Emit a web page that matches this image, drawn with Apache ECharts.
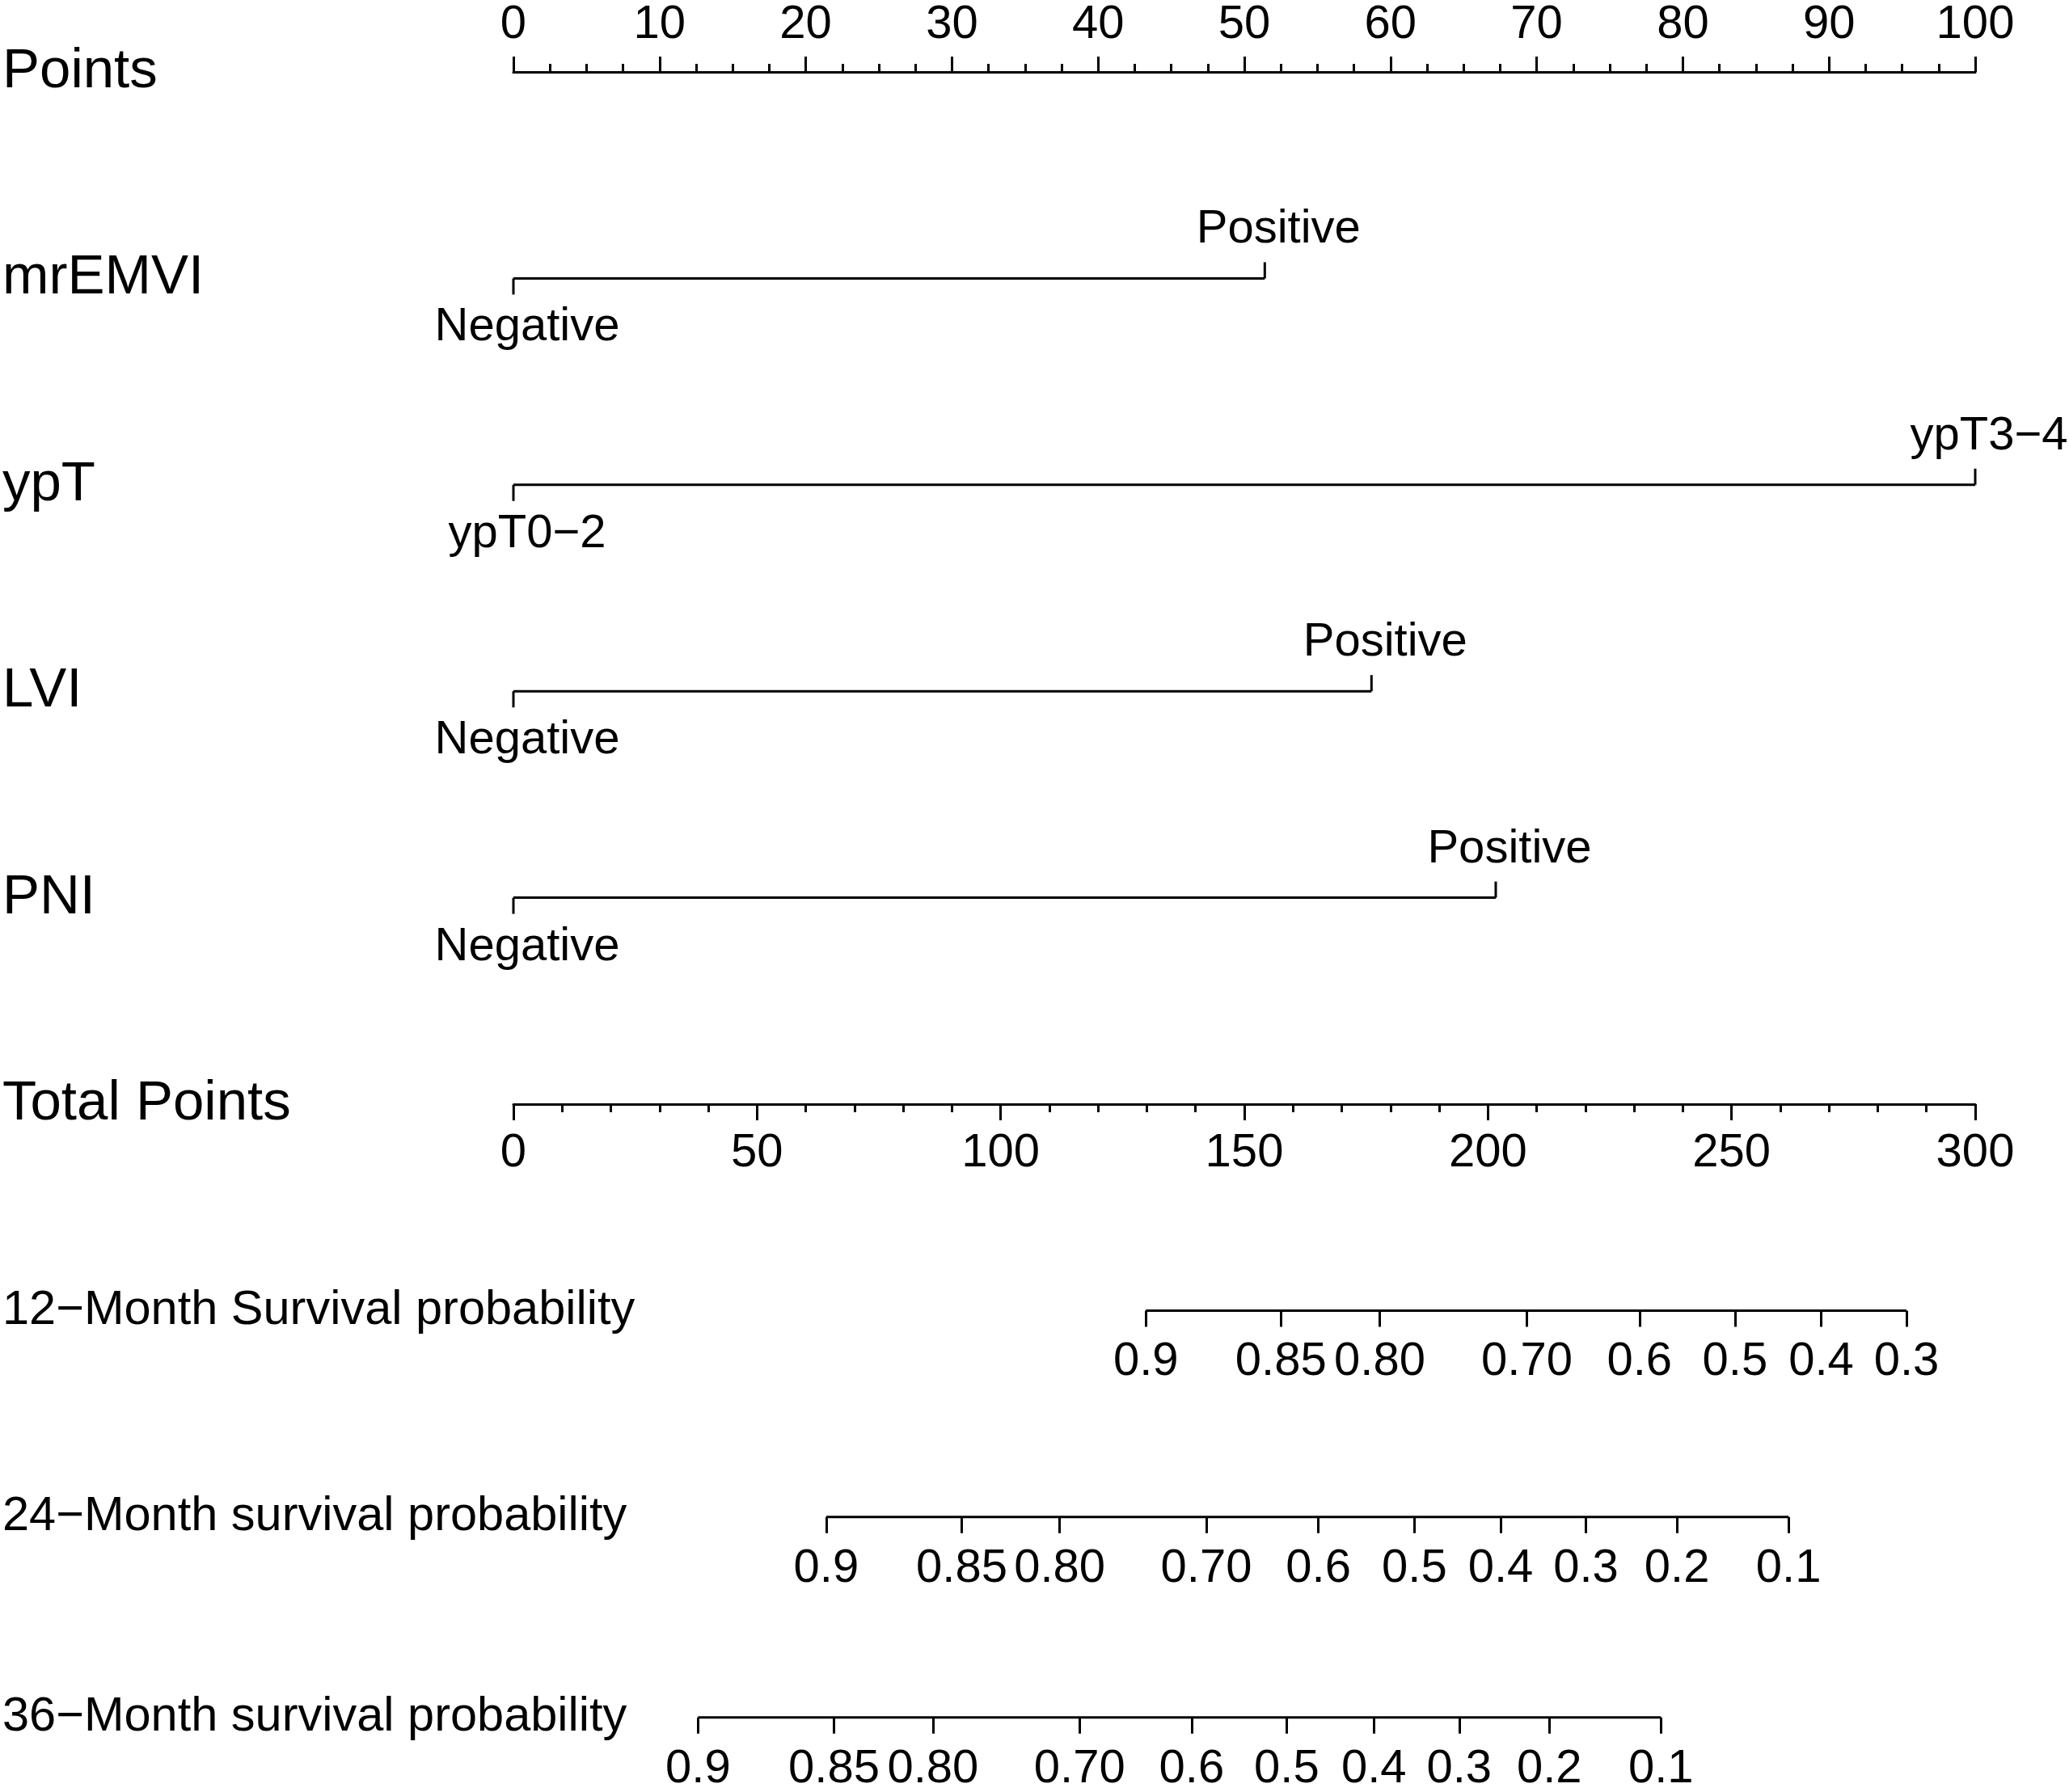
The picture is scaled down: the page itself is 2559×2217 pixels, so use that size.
<!DOCTYPE html>
<html>
<head>
<meta charset="utf-8">
<script src="https://cdn.jsdelivr.net/npm/echarts@6/dist/echarts.min.js"></script>
<style>
  html, body { margin: 0; padding: 0; background: #fff; }
  #chart { width: 2559px; height: 2217px; }
</style>
</head>
<body>
<div id="chart"></div>
<script>
// rows of the nomogram, top to bottom
const rowNames = ['Points', 'mrEMVI', 'ypT', 'LVI', 'PNI', 'Total Points'];

// levels of each predictor and the points they get
const mrEMVILevels = ['Negative', 'Positive'];
const mrEMVIPoints = [0, 51.4];
const ypTLevels = ['ypT0\u22122', 'ypT3\u22124'];
const ypTPoints = [0, 100];
const LVILevels = ['Negative', 'Positive'];
const LVIPoints = [0, 58.7];
const PNILevels = ['Negative', 'Positive'];
const PNIPoints = [0, 67.2];

// survival scales: label and the total points it sits at
const surv12Title = '12\u2212Month Survival probability';
const surv12Labels = ['0.9', '0.85', '0.80', '0.70', '0.6', '0.5', '0.4', '0.3'];
const surv12Points = [129.8, 157.5, 177.8, 208.0, 231.1, 250.7, 268.4, 285.9];

const surv24Title = '24\u2212Month survival probability';
const surv24Labels = ['0.9', '0.85', '0.80', '0.70', '0.6', '0.5', '0.4', '0.3', '0.2', '0.1'];
const surv24Points = [64.2, 92.0, 112.1, 142.2, 165.2, 184.9, 202.6, 220.1, 238.8, 261.7];

const surv36Title = '36\u2212Month survival probability';
const surv36Labels = ['0.9', '0.85', '0.80', '0.70', '0.6', '0.5', '0.4', '0.3', '0.2', '0.1'];
const surv36Points = [37.9, 65.8, 86.1, 116.2, 139.2, 158.7, 176.6, 194.1, 212.6, 235.5];

// axis ranges
const pointsMax = 100, pointsStep = 10;
const totalMax = 300, totalStep = 50;

const FONT = 'Liberation Sans, Arial, Helvetica, sans-serif';
const chart = echarts.init(document.getElementById('chart'));

const predictors = [
  { levels: mrEMVILevels, pts: mrEMVIPoints, row: 4 },
  { levels: ypTLevels, pts: ypTPoints, row: 3 },
  { levels: LVILevels, pts: LVIPoints, row: 2 },
  { levels: PNILevels, pts: PNIPoints, row: 1 }
];
const survs = [
  { title: surv12Title, labels: surv12Labels, pts: surv12Points },
  { title: surv24Title, labels: surv24Labels, pts: surv24Points },
  { title: surv36Title, labels: surv36Labels, pts: surv36Points }
];

// level ticks + labels; first level below the line, next above, alternating
const levelItems = [];
predictors.forEach(p => {
  p.levels.forEach((lab, i) => {
    levelItems.push({ value: [p.pts[i], p.row, i % 2 === 0 ? -1 : 1], label: lab });
  });
});

const L = 635, W = 1808;
const topY = 89, rowH = 255.4;
const black = { color: '#000', width: 3 };

const grids = [{ left: L, width: W, top: topY, height: rowH * 5 }];
const xAxes = [
  {
    gridIndex: 0, type: 'value', position: 'top', min: 0, max: pointsMax, interval: pointsStep,
    axisLine: { show: true, onZero: false, lineStyle: black },
    axisTick: { show: true, length: 19, lineStyle: black },
    minorTick: { show: true, splitNumber: 4, length: 10, lineStyle: black },
    axisLabel: { color: '#000', fontSize: 58, fontFamily: FONT, margin: 29 },
    splitLine: { show: false }
  },
  {
    gridIndex: 0, type: 'value', position: 'bottom', min: 0, max: totalMax, interval: totalStep,
    axisLine: { show: true, onZero: false, lineStyle: black },
    axisTick: { show: true, length: 20, lineStyle: black },
    minorTick: { show: true, splitNumber: 5, length: 10, lineStyle: black },
    axisLabel: { color: '#000', fontSize: 58, fontFamily: FONT, margin: 32 },
    splitLine: { show: false }
  }
];
const yAxes = [
  {
    gridIndex: 0, type: 'value', min: 0, max: 5,
    axisLine: { show: false }, axisTick: { show: false }, splitLine: { show: false },
    axisLabel: {
      customValues: [5, 4, 3, 2, 1, 0],
      formatter: v => rowNames[5 - v],
      align: 'left', margin: L - 3,
      color: '#000', fontSize: 69, fontFamily: FONT
    }
  }
];

const series = [];
predictors.forEach(p => {
  series.push({
    type: 'line', xAxisIndex: 0, yAxisIndex: 0, symbol: 'none', silent: true,
    lineStyle: black,
    data: [[p.pts[0], p.row], [p.pts[p.pts.length - 1], p.row]]
  });
});
series.push({
  type: 'custom', xAxisIndex: 0, yAxisIndex: 0, silent: true,
  data: levelItems.map(d => d.value),
  renderItem: (params, api) => {
    const pt = api.coord([api.value(0), api.value(1)]);
    const side = api.value(2);
    const item = levelItems[params.dataIndex];
    return {
      type: 'group',
      children: [
        { type: 'line', shape: { x1: pt[0], y1: pt[1], x2: pt[0], y2: pt[1] - side * 20 },
          style: { stroke: '#000', lineWidth: 3 } },
        { type: 'text', x: pt[0] + 17, y: side > 0 ? pt[1] - 31 : pt[1] + 32,
          style: { text: item.label, fill: '#000', font: '58px ' + FONT, align: 'center',
                   verticalAlign: side > 0 ? 'bottom' : 'top' } }
      ]
    };
  }
});

survs.forEach((s, k) => {
  const gi = k + 1;
  const lineY = topY + rowH * (6 + k);
  grids.push({ left: L, width: W, top: lineY - 10, height: 10 });
  xAxes.push({
    gridIndex: gi, type: 'value', position: 'bottom', min: 0, max: totalMax,
    axisLine: { show: false, onZero: false }, splitLine: { show: false },
    axisTick: { show: true, length: 20, customValues: s.pts, lineStyle: black },
    axisLabel: {
      customValues: s.pts,
      formatter: v => s.labels[s.pts.indexOf(v)],
      color: '#000', fontSize: 58, fontFamily: FONT, margin: 35,
      showMinLabel: true, showMaxLabel: true
    }
  });
  yAxes.push({
    gridIndex: gi, type: 'value', min: 0, max: 1,
    axisLine: { show: false }, axisTick: { show: false }, splitLine: { show: false },
    axisLabel: {
      customValues: [0], formatter: () => s.title,
      align: 'left', margin: L - 3, color: '#000', fontSize: 59.5, fontFamily: FONT
    }
  });
  series.push({
    type: 'line', xAxisIndex: gi + 1, yAxisIndex: gi, symbol: 'none', silent: true, clip: false,
    lineStyle: black,
    data: [[s.pts[0], 0], [s.pts[s.pts.length - 1], 0]]
  });
});

chart.setOption({
  backgroundColor: '#fff',
  animation: false,
  grid: grids,
  xAxis: xAxes,
  yAxis: yAxes,
  series: series
});
</script>
</body>
</html>
